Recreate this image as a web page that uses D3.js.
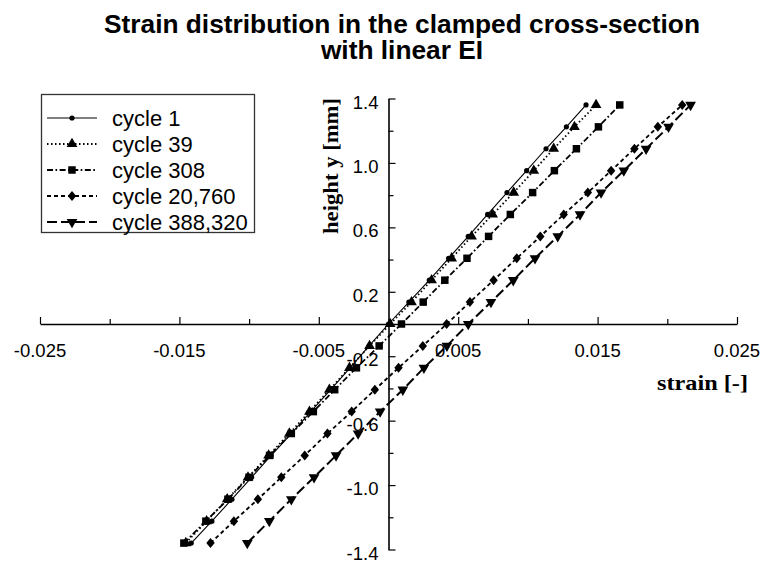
<!DOCTYPE html>
<html>
<head>
<meta charset="utf-8">
<script src="https://cdn.jsdelivr.net/npm/d3@7"></script>
<style>
  body { margin: 0; background: #fff; }
  svg { display: block; }
</style>
</head>
<body>
<svg id="chart" width="763" height="563"></svg>
<script>
// ---------------- data ----------------
const heights = [-1.36, -1.224, -1.088, -0.952, -0.816, -0.68, -0.544, -0.408, -0.272, -0.136,
                 0, 0.136, 0.272, 0.408, 0.544, 0.68, 0.816, 0.952, 1.088, 1.224, 1.36];
const cycle1 = [-0.01415, -0.01267, -0.01123, -0.00982, -0.00841, -0.00697, -0.00558, -0.00414, -0.00276, -0.00139,
                0.00000, 0.00146, 0.00293, 0.00431, 0.00572, 0.00711, 0.00850, 0.00991, 0.01130, 0.01276, 0.01417];
const cycle39 = [-0.01454, -0.01305, -0.01157, -0.01008, -0.00860, -0.00711, -0.00567, -0.00424, -0.00280, -0.00136,
                 0.00012, 0.00165, 0.00309, 0.00453, 0.00596, 0.00747, 0.00898, 0.01042, 0.01185, 0.01334, 0.01489];
const cycle308 = [-0.01468, -0.01310, -0.01152, -0.01001, -0.00853, -0.00697, -0.00539, -0.00386, -0.00230, -0.00067,
                  0.00093, 0.00249, 0.00404, 0.00563, 0.00718, 0.00874, 0.01034, 0.01190, 0.01348, 0.01506, 0.01659];
const cycle20760 = [-0.01277, -0.01109, -0.00937, -0.00769, -0.00601, -0.00438, -0.00264, -0.00098, 0.00072, 0.00246,
                    0.00417, 0.00584, 0.00754, 0.00920, 0.01089, 0.01257, 0.01430, 0.01597, 0.01764, 0.01932, 0.02107];
const cycle388320 = [-0.01013, -0.00855, -0.00697, -0.00534, -0.00376, -0.00218, -0.00060, 0.00103, 0.00254, 0.00419,
                     0.00572, 0.00735, 0.00895, 0.01051, 0.01214, 0.01374, 0.01525, 0.01688, 0.01848, 0.02009, 0.02167];
const seriesNames = ["cycle 1", "cycle 39", "cycle 308", "cycle 20,760", "cycle 388,320"];
const xTickValues = [-0.025, -0.02, -0.015, -0.01, -0.005, 0, 0.005, 0.01, 0.015, 0.02, 0.025];
const xLabelValues = [-0.025, -0.015, -0.005, 0.005, 0.015, 0.025];
const xLabels = ["-0.025", "-0.015", "-0.005", "0.005", "0.015", "0.025"];
const yTickValues = [-1.4, -1.2, -1.0, -0.8, -0.6, -0.4, -0.2, 0, 0.2, 0.4, 0.6, 0.8, 1.0, 1.2, 1.4];
const yLabelValues = [1.4, 1.0, 0.6, 0.2, -0.2, -0.6, -1.0, -1.4];
const yLabels = ["1.4", "1.0", "0.6", "0.2", "-0.2", "-0.6", "-1.0", "-1.4"];
const titleLines = ["Strain distribution in the clamped cross-section", "with linear EI"];
const xTitle = "strain [-]";
const yTitle = "height y [mm]";

// ---------------- setup ----------------
const svg = d3.select("#chart");
svg.append("rect").attr("width", 763).attr("height", 563).attr("fill", "#fff");
const sans = "Arial, 'Liberation Sans', Helvetica, sans-serif";
const serif = "'Times New Roman', 'Liberation Serif', Times, serif";

const x = d3.scaleLinear().domain([-0.025, 0.025]).range([40, 737]);
const y = d3.scaleLinear().domain([-1.4, 1.4]).range([549.5, 98.5]);

function fitWidth(sel, target) {
  sel.each(function () {
    this.setAttribute("textLength", target);
    this.setAttribute("lengthAdjust", "spacingAndGlyphs");
  });
}
function stretch(sel, f) {
  sel.each(function () {
    const w = this.getComputedTextLength();
    this.setAttribute("textLength", w * f);
    this.setAttribute("lengthAdjust", "spacingAndGlyphs");
  });
}

// ---------------- title ----------------
const t1 = svg.append("text").attr("x", 402).attr("y", 33).attr("text-anchor", "middle")
  .attr("font-family", sans).attr("font-weight", "bold").attr("font-size", 25.5).text(titleLines[0]);
const tf = 596 / t1.node().getComputedTextLength();
stretch(t1, tf);
const t2 = svg.append("text").attr("x", 402).attr("y", 59).attr("text-anchor", "middle")
  .attr("font-family", sans).attr("font-weight", "bold").attr("font-size", 25.5).text(titleLines[1]);
stretch(t2, tf);

// ---------------- axes ----------------
const y0 = y(0), x0 = x(0);
const xAxis = d3.axisBottom(x).tickValues(xTickValues).tickSizeOuter(0)
  .tickSizeInner(-6).tickFormat("");
const gx = svg.append("g").attr("transform", `translate(0,${y0})`).call(xAxis);
gx.selectAll("line").attr("stroke", "#000").attr("stroke-width", 1.2)
  .attr("y2", d => xLabelValues.some(v => Math.abs(v - d) < 1e-9) ? -7 : -5);
gx.select(".domain").attr("stroke", "#000").attr("stroke-width", 1.6);

const yAxis = d3.axisRight(y).tickValues(yTickValues).tickSizeOuter(0)
  .tickSizeInner(6).tickFormat("");
const gy = svg.append("g").attr("transform", `translate(${x0},0)`).call(yAxis);
gy.selectAll("line").attr("stroke", "#000").attr("stroke-width", 1.2)
  .attr("x2", d => yLabelValues.some(v => Math.abs(v - d) < 1e-9) ? 7 : 5);
gy.select(".domain").attr("stroke", "#000").attr("stroke-width", 1.6);

svg.append("g").selectAll("text").data(xLabelValues).join("text")
  .attr("x", d => x(d)).attr("y", y0 + 33).attr("text-anchor", "middle")
  .attr("font-family", sans).attr("font-size", 18.5).text((d, i) => xLabels[i]);

svg.append("g").selectAll("text").data(yLabelValues).join("text")
  .attr("x", x0 - 10).attr("y", d => y(d) + 10).attr("text-anchor", "end")
  .attr("font-family", sans).attr("font-size", 18.5).text((d, i) => yLabels[i]);

const xt = svg.append("text").attr("x", 748).attr("y", 390).attr("text-anchor", "end")
  .attr("font-family", serif).attr("font-weight", "bold").attr("font-size", 22).text(xTitle);
fitWidth(xt, 91);

const yt = svg.append("text").attr("transform", `translate(338,166) rotate(-90)`)
  .attr("text-anchor", "middle")
  .attr("font-family", serif).attr("font-weight", "bold").attr("font-size", 22).text(yTitle);
fitWidth(yt, 136);

// ---------------- series ----------------
const tri = d3.symbol().type(d3.symbolTriangle).size(50)();
const sq = d3.symbol().type(d3.symbolSquare).size(56)();
const dia = "M0,-5L4.2,0L0,5L-4.2,0Z";
const series = [
  { name: seriesNames[0], vals: cycle1, dash: null, width: 1.1, marker: "circle" },
  { name: seriesNames[1], vals: cycle39, dash: "1.5,2.5", width: 1.8, marker: tri },
  { name: seriesNames[2], vals: cycle308, dash: "6,2.5,1.6,2.5", width: 1.8, marker: sq },
  { name: seriesNames[3], vals: cycle20760, dash: "4,3", width: 1.8, marker: dia },
  { name: seriesNames[4], vals: cycle388320, dash: "10,4", width: 2, marker: "tridown" }
];

const line = d3.line().x(d => x(d[0])).y(d => y(d[1]));
function drawMarker(g, m, px, py) {
  if (m === "circle") {
    g.append("circle").attr("cx", px).attr("cy", py).attr("r", 2.6).attr("fill", "#000");
  } else if (m === "tridown") {
    g.append("path").attr("d", tri).attr("transform", `translate(${px},${py}) rotate(180)`).attr("fill", "#000");
  } else {
    g.append("path").attr("d", m).attr("transform", `translate(${px},${py})`).attr("fill", "#000");
  }
}

series.forEach(s => {
  const pts = s.vals.map((v, i) => [v, heights[i]]);
  const g = svg.append("g");
  g.append("path").attr("d", line(pts)).attr("fill", "none").attr("stroke", "#000")
    .attr("stroke-width", s.width).attr("stroke-dasharray", s.dash);
  pts.forEach(p => drawMarker(g, s.marker, x(p[0]), y(p[1])));
});

// ---------------- legend ----------------
const lg = svg.append("g");
lg.append("rect").attr("x", 41.5).attr("y", 94.5).attr("width", 213).attr("height", 138)
  .attr("fill", "#fff").attr("stroke", "#333").attr("stroke-width", 1.3);
series.forEach((s, i) => {
  const ly = 118 + i * 26;
  lg.append("line").attr("x1", 47).attr("x2", 97).attr("y1", ly).attr("y2", ly)
    .attr("stroke", "#000").attr("stroke-width", s.width).attr("stroke-dasharray", s.dash);
  drawMarker(lg, s.marker, 72, ly);
  lg.append("text").attr("x", 112).attr("y", ly + 7.5)
    .attr("font-family", sans).attr("font-size", 22).text(s.name);
});
</script>
</body>
</html>
